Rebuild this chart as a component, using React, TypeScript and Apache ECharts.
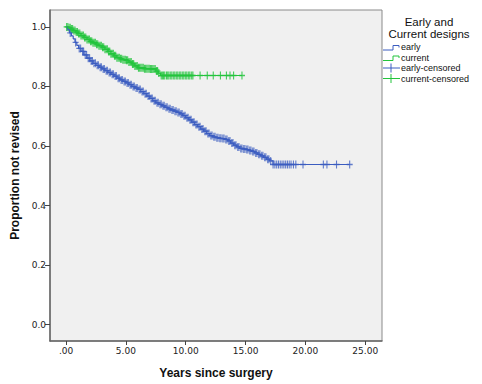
import React, { useEffect, useRef } from "react";
import * as echarts from "echarts";

// Kaplan-Meier steps: early designs
const earlyTimes = [0, 0.15, 0.3, 0.45, 0.6, 0.75, 0.9, 1.05, 1.25, 1.5, 1.75, 2.0, 2.25, 2.5, 2.75, 3.0, 3.25, 3.5, 3.75, 4.0, 4.25, 4.5, 4.75, 5.0, 5.25, 5.5, 5.75, 6.0, 6.25, 6.5, 6.75, 7.0, 7.25, 7.5, 7.75, 8.0, 8.25, 8.5, 8.75, 9.0, 9.25, 9.5, 9.75, 10.0, 10.25, 10.5, 10.75, 11.0, 11.25, 11.5, 11.75, 12.0, 12.25, 12.5, 12.75, 13.0, 13.25, 13.5, 13.75, 14.0, 14.25, 14.5, 14.75, 15.0, 15.25, 15.5, 15.75, 16.0, 16.25, 16.5, 16.75, 17.0, 17.3, 23.7];
const earlySurv = [1.0, 0.99, 0.98, 0.97, 0.96, 0.948, 0.938, 0.928, 0.918, 0.906, 0.895, 0.886, 0.878, 0.871, 0.865, 0.859, 0.853, 0.847, 0.841, 0.835, 0.828, 0.822, 0.817, 0.812, 0.806, 0.8, 0.795, 0.79, 0.783, 0.776, 0.768, 0.76, 0.752, 0.745, 0.74, 0.735, 0.73, 0.725, 0.721, 0.717, 0.713, 0.708, 0.702, 0.695, 0.688, 0.68, 0.672, 0.665, 0.657, 0.65, 0.642, 0.635, 0.631, 0.628, 0.626, 0.625, 0.622, 0.617, 0.61, 0.603, 0.597, 0.592, 0.59, 0.588, 0.585, 0.582, 0.577, 0.572, 0.567, 0.562, 0.556, 0.55, 0.538, 0.538];
// current designs
const currentTimes = [0, 0.2, 0.4, 0.6, 0.8, 1.0, 1.25, 1.5, 1.75, 2.0, 2.25, 2.5, 2.75, 3.0, 3.25, 3.5, 3.75, 4.0, 4.25, 4.5, 4.75, 5.0, 5.25, 5.5, 5.75, 6.0, 6.5, 7.0, 7.5, 7.7, 7.9, 14.7];
const currentSurv = [1.0, 0.997, 0.993, 0.988, 0.983, 0.978, 0.971, 0.965, 0.958, 0.952, 0.947, 0.942, 0.937, 0.932, 0.925, 0.918, 0.91, 0.903, 0.897, 0.893, 0.89, 0.888, 0.882, 0.876, 0.869, 0.863, 0.86, 0.859, 0.852, 0.845, 0.837, 0.837];

// censoring times
const earlyCensor = [0.35, 0.8, 1.1, 1.22, 1.38, 1.47, 1.6, 1.72, 1.85, 1.97, 2.1, 2.2, 2.33, 2.45, 2.6, 2.7, 2.85, 2.95, 3.1, 3.2, 3.35, 3.45, 3.6, 3.7, 3.85, 3.95, 4.1, 4.2, 4.35, 4.45, 4.6, 4.7, 4.85, 4.95, 5.1, 5.2, 5.35, 5.45, 5.6, 5.7, 5.85, 5.95, 6.1, 6.2, 6.35, 6.45, 6.6, 6.7, 6.85, 6.95, 7.1, 7.2, 7.35, 7.45, 7.6, 7.7, 7.85, 7.95, 8.1, 8.2, 8.35, 8.45, 8.6, 8.7, 8.85, 8.95, 9.1, 9.2, 9.35, 9.45, 9.6, 9.7, 9.85, 9.95, 10.1, 10.2, 10.35, 10.45, 10.6, 10.7, 10.85, 10.95, 11.1, 11.2, 11.35, 11.45, 11.6, 11.7, 11.85, 11.95, 12.1, 12.2, 12.35, 12.45, 12.6, 12.7, 12.85, 12.95, 13.1, 13.2, 13.35, 13.45, 13.6, 13.7, 13.85, 13.95, 14.1, 14.2, 14.35, 14.45, 14.6, 14.7, 14.85, 14.95, 15.1, 15.2, 15.35, 15.45, 15.6, 15.7, 15.85, 15.95, 16.1, 16.2, 16.35, 16.45, 16.6, 16.7, 16.85, 16.95, 17.1, 17.3, 17.45, 17.6, 17.75, 17.9, 18.05, 18.2, 18.35, 18.5, 18.65, 18.8, 19.0, 19.2, 19.8, 21.5, 21.8, 22.6, 23.7];
const currentCensor = [0.05, 0.15, 0.25, 0.35, 0.45, 0.55, 0.65, 0.75, 0.85, 0.95, 1.05, 1.15, 1.25, 1.35, 1.45, 1.55, 1.65, 1.75, 1.85, 1.95, 2.05, 2.15, 2.25, 2.35, 2.45, 2.55, 2.65, 2.75, 2.85, 2.95, 3.05, 3.15, 3.25, 3.35, 3.45, 3.55, 3.65, 3.75, 3.85, 3.95, 4.05, 4.15, 4.25, 4.35, 4.45, 4.55, 4.65, 4.75, 4.85, 4.95, 5.05, 5.15, 5.25, 5.35, 5.45, 5.55, 5.65, 5.75, 5.85, 5.95, 6.05, 6.15, 6.25, 6.35, 6.45, 6.55, 6.65, 6.75, 6.85, 6.95, 7.05, 7.15, 7.25, 7.35, 7.45, 7.55, 7.65, 7.75, 7.95, 8.05, 8.15, 8.25, 8.4, 8.5, 8.6, 8.75, 8.85, 9.0, 9.1, 9.25, 9.35, 9.5, 9.6, 9.75, 9.85, 10.0, 10.1, 10.25, 10.35, 10.5, 10.6, 11.2, 11.8, 12.3, 12.9, 13.4, 13.7, 14.0, 14.7];

const xTicks = [0, 5, 10, 15, 20, 25];
const yTicks = [0, 0.2, 0.4, 0.6, 0.8, 1.0];

const BLUE = "#3b5cc0";
const GREEN = "#22c43c";
const PLUS = "path://M4.1,0H5.9V4.2H10V5.8H5.9V10H4.1V5.8H0V4.2H4.1Z";

function survAt(times: number[], surv: number[], t: number) {
  let v = surv[0];
  for (let i = 0; i < times.length; i++) if (times[i] <= t) v = surv[i];
  return v;
}

export default function App() {
  const ref = useRef<HTMLDivElement>(null);
  useEffect(() => {
    if (!ref.current) return;
    const chart = echarts.init(ref.current, undefined, { renderer: "svg" });
    const tickFont = { fontFamily: "DejaVu Sans", fontSize: 9, color: "#222" };
    const lx = 383;
    const items = [
      { name: "early", color: BLUE, kind: "step", y: 47 },
      { name: "current", color: GREEN, kind: "step", y: 57.5 },
      { name: "early-censored", color: BLUE, kind: "plus", y: 68 },
      { name: "current-censored", color: GREEN, kind: "plus", y: 78.5 },
    ];
    const legendEls: any[] = [
      { type: "text", style: { text: "Early and", x: 429, y: 22, align: "center", verticalAlign: "middle", font: "11.5px 'Liberation Sans'", fill: "#111" } },
      { type: "text", style: { text: "Current designs", x: 429, y: 34, align: "center", verticalAlign: "middle", font: "11.5px 'Liberation Sans'", fill: "#111" } },
    ];
    items.forEach((it) => {
      if (it.kind === "step") {
        legendEls.push({ type: "polyline", shape: { points: [[lx, it.y + 3], [lx + 10, it.y + 3], [lx + 10, it.y - 1.5], [lx + 16, it.y - 1.5], [lx + 16, it.y + 0.5]] }, style: { stroke: it.color, lineWidth: 1, fill: "none" } });
      } else {
        legendEls.push({ type: "line", shape: { x1: lx, y1: it.y, x2: lx + 17, y2: it.y }, style: { stroke: it.color, lineWidth: 1 } });
        legendEls.push({ type: "line", shape: { x1: lx + 8, y1: it.y - 4.5, x2: lx + 8, y2: it.y + 4.5 }, style: { stroke: it.color, lineWidth: 1 } });
      }
      legendEls.push({ type: "text", style: { text: it.name, x: lx + 18, y: it.y, align: "left", verticalAlign: "middle", font: "9px 'Liberation Sans'", fill: "#111" } });
    });

    chart.setOption({
      animation: false,
      backgroundColor: "#ffffff",
      grid: { left: 50, top: 10, right: 100, bottom: 37, show: true, backgroundColor: "#f0f0f0", borderColor: "#8a8a8a", borderWidth: 1 },
      xAxis: {
        type: "value",
        min: -1.34,
        max: 26.4,
        name: "Years since surgery",
        nameLocation: "middle",
        nameGap: 26,
        nameTextStyle: { fontFamily: "Liberation Sans", fontSize: 12, fontWeight: "bold", color: "#111" },
        axisLine: { show: true, onZero: false, lineStyle: { color: "#666", width: 1.5 } },
        axisTick: { show: true, length: 4, customValues: xTicks, lineStyle: { color: "#444" } },
        axisLabel: { customValues: xTicks, margin: 5, ...tickFont, formatter: (v: number) => (v === 0 ? ".00" : v.toFixed(2)) },
        splitLine: { show: false },
      },
      yAxis: {
        type: "value",
        min: -0.055,
        max: 1.057,
        name: "Proportion not revised",
        nameLocation: "middle",
        nameGap: 27,
        nameTextStyle: { fontFamily: "Liberation Sans", fontSize: 12, fontWeight: "bold", color: "#111" },
        axisLine: { show: true, onZero: false, lineStyle: { color: "#666", width: 1.5 } },
        axisTick: { show: true, length: 5, customValues: yTicks, lineStyle: { color: "#444" } },
        axisLabel: { customValues: yTicks, margin: 4, ...tickFont, formatter: (v: number) => v.toFixed(1) },
        splitLine: { show: false },
      },
      series: [
        { name: "early", type: "line", step: "end", showSymbol: false, data: earlyTimes.map((t, i) => [t, earlySurv[i]]), lineStyle: { color: BLUE, width: 1.2 }, itemStyle: { color: BLUE } },
        { name: "current", type: "line", step: "end", showSymbol: false, data: currentTimes.map((t, i) => [t, currentSurv[i]]), lineStyle: { color: GREEN, width: 1.2 }, itemStyle: { color: GREEN } },
        { name: "early-censored", type: "scatter", symbol: PLUS, symbolSize: [6, 8], data: earlyCensor.map((t) => [t, survAt(earlyTimes, earlySurv, t)]), itemStyle: { color: BLUE, opacity: 0.8 } },
        { name: "current-censored", type: "scatter", symbol: PLUS, symbolSize: [6, 8], data: currentCensor.map((t) => [t, survAt(currentTimes, currentSurv, t)]), itemStyle: { color: GREEN, opacity: 0.85 } },
      ],
      graphic: legendEls,
    });
    return () => chart.dispose();
  }, []);
  return <div ref={ref} style={{ position: "absolute", left: 0, top: 0, width: 482, height: 384 }} />;
}
